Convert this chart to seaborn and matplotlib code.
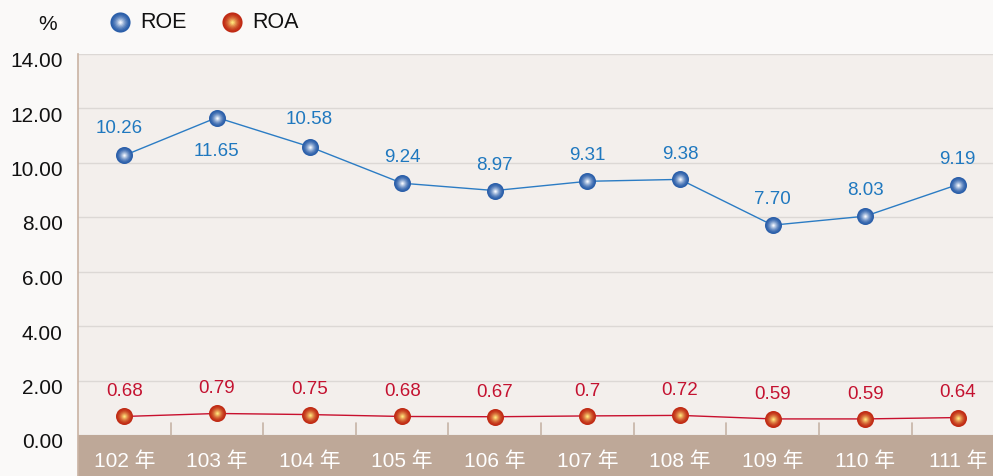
import matplotlib
matplotlib.use("Agg")
import matplotlib.pyplot as plt
import matplotlib.transforms as mtransforms
from matplotlib.lines import Line2D
from matplotlib.colors import to_rgb
import seaborn as sns
import pandas as pd
import numpy as np

years = ["102 年", "103 年", "104 年", "105 年", "106 年",
         "107 年", "108 年", "109 年", "110 年", "111 年"]
roe = [10.26, 11.65, 10.58, 9.24, 8.97, 9.31, 9.38, 7.70, 8.03, 9.19]
roa = [0.68, 0.79, 0.75, 0.68, 0.67, 0.7, 0.72, 0.59, 0.59, 0.64]
roa_labels = ["0.68", "0.79", "0.75", "0.68", "0.67", "0.7", "0.72", "0.59", "0.59", "0.64"]
yticks = [0, 2, 4, 6, 8, 10, 12, 14]

BLUE = "#2b7cc4"
BLUE_TXT = "#1f78bf"
RED = "#c8102e"
RED_TXT = "#c41230"

sns.set_style("white")
plt.rcParams["font.family"] = ["Liberation Sans", "Noto Sans CJK TC"]

df = pd.DataFrame({"pos": np.arange(len(years)), "year": years, "ROE": roe, "ROA": roa})

W, H = 993, 477
fig = plt.figure(figsize=(W / 100, H / 100), dpi=100, facecolor="#faf9f8")
ax = fig.add_axes([78 / W, 0, 1 - 78 / W, 1 - 54.5 / H])
ax.set_facecolor("#f3efec")

ymin = -41 / 27.25
ax.set_ylim(ymin, 14)
ax.set_xlim(-0.5, 9.38)

for y in yticks:
    ax.axhline(y, color="#dcd8d5", lw=1, zorder=0)
ax.axhspan(ymin, 0, color="#bea898", zorder=1, lw=0)
for i in range(len(years) - 1):
    ax.plot([i + 0.5, i + 0.5], [0, 0.45], color="#c6b4a6", lw=1.2, zorder=1)

sns.lineplot(data=df, x="pos", y="ROE", color=BLUE, lw=1, ax=ax, zorder=3)
sns.lineplot(data=df, x="pos", y="ROA", color=RED, lw=1, ax=ax, zorder=3)


def ramp(edge, center, n):
    a, b = np.array(to_rgb(edge)), np.array(to_rgb(center))
    return [tuple(a + (b - a) * (k / (n - 1)) ** 1.6) for k in range(n)]


BALL_BLUE = ("#2a5ea9", "#f2f6fd")
BALL_RED = ("#c02a14", "#ffe27a")


def balls(vals, cols, size=150):
    n = 8
    cs = ramp(cols[0], cols[1], n)
    for k, c in enumerate(cs):
        s = size * (1 - k / n) ** 2
        ax.scatter(df["pos"], vals, s=s, color=c, lw=0, zorder=4 + k * 0.01)


balls(df["ROE"], BALL_BLUE)
balls(df["ROA"], BALL_RED)

roe_off = [(-4, 20), (0, -24), (0, 20), (0, 19), (0, 19), (0, 19), (0, 19), (0, 19), (0, 19), (0, 19)]
for i, v in enumerate(roe):
    ax.annotate(f"{v:.2f}", (i, v), xytext=roe_off[i], textcoords="offset points",
                ha="center", va="center", color=BLUE_TXT, fontsize=13.5, zorder=7)
for i, v in enumerate(roa):
    ax.annotate(roa_labels[i], (i, v), xytext=(0, 18.5), textcoords="offset points",
                ha="center", va="center", color=RED_TXT, fontsize=13.5, zorder=7)

for i, lab in enumerate(years):
    ax.annotate(lab, (i, ymin / 2), xytext=(0, -3.5), textcoords="offset points",
                ha="center", va="center", color="white", fontsize=15, zorder=7)

ax.set_yticks(yticks)
ax.set_yticklabels([f"{y:.2f}" for y in yticks], fontsize=15, color="#111111")
ax.tick_params(axis="y", length=0, pad=11)
shift = mtransforms.ScaledTranslation(0, -5 / 100, fig.dpi_scale_trans)
for lab in ax.get_yticklabels():
    lab.set_transform(lab.get_transform() + shift)
ax.set_xticks([])
ax.set_xlabel("")
ax.set_ylabel("")
for s in ["top", "right", "bottom"]:
    ax.spines[s].set_visible(False)
ax.spines["left"].set_color("#c9b3a3")
ax.spines["left"].set_linewidth(1.2)

# legend
fig.text(48 / W, 1 - 25 / H, "%", ha="center", va="center", fontsize=15, color="#111111")
for xc, cols, lab in [(120, BALL_BLUE, "ROE"), (232, BALL_RED, "ROA")]:
    yc = 1 - 23 / H
    cs = ramp(cols[0], cols[1], 8)
    for k, c in enumerate(cs):
        fig.add_artist(Line2D([xc / W], [yc], marker="o", ms=14.5 * (1 - k / 8), mfc=c, mew=0, ls=""))
    fig.text((xc + 20) / W, yc, lab, ha="left", va="center", fontsize=15.5, color="#111111")

fig.savefig("out.png", dpi=100, facecolor=fig.get_facecolor())
